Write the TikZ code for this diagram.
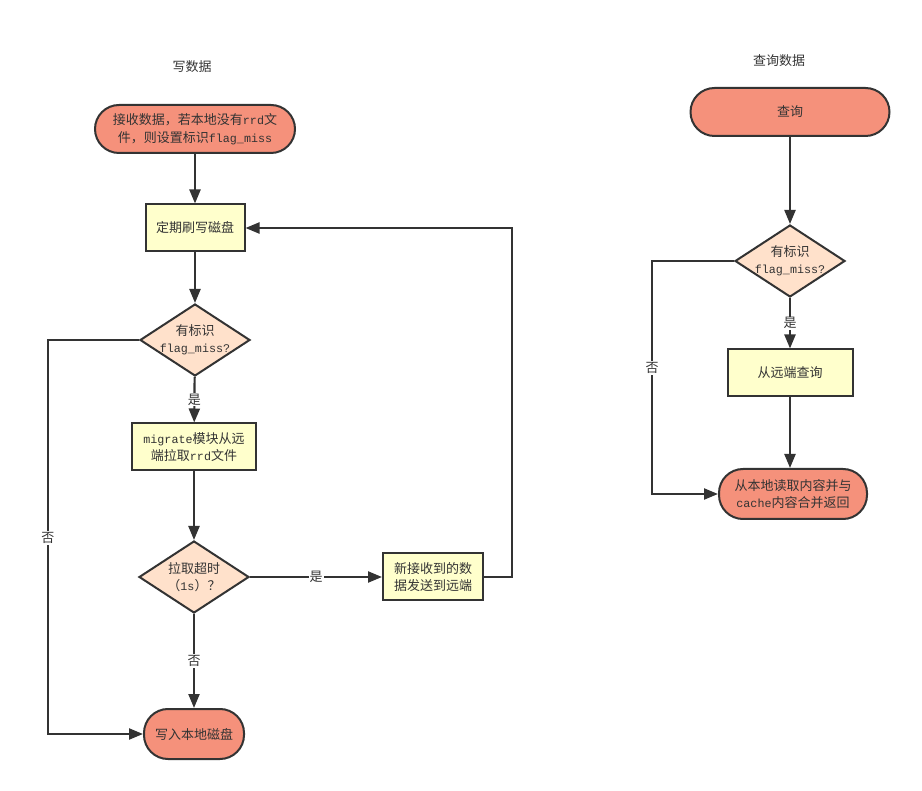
\documentclass[tikz,border=0pt]{standalone}
\usepackage{fontspec}
\setmainfont{Noto Sans CJK SC}
\setmonofont{Liberation Mono}[Scale=0.9]
\usetikzlibrary{arrows.meta,shapes.geometric}

\definecolor{lineC}{HTML}{333333}
\definecolor{termC}{HTML}{F5917B}
\definecolor{boxC}{HTML}{FFFFCC}
\definecolor{diaC}{HTML}{FFE1CB}

\tikzset{
  every node/.style={font=\fontsize{13}{17.5}\selectfont, text=lineC},
  term/.style={draw=lineC, line width=2pt, fill=termC, rounded corners=24pt,
    minimum height=48pt, align=center},
  procbox/.style={draw=lineC, line width=2pt, fill=boxC, minimum height=47pt,
    align=center},
  decision/.style={draw=lineC, line width=2pt, fill=diaC, shape=diamond,
    shape aspect=1.5, inner sep=-4pt, minimum width=110pt, minimum height=72pt,
    align=center},
  arrow/.style={draw=lineC, line width=2.2pt,
    -{Triangle[length=14pt,width=11pt]}},
  lbl/.style={fill=white, inner sep=1pt}
}

\begin{document}
\begin{tikzpicture}[x=1pt,y=-1pt]
        \useasboundingbox (0,0) rectangle (922,791);
        % write side
        \node (t1) at (192,67) {写数据};
        \node[term, minimum width=200pt] (s1) at (195,129)
          {接收数据，若本地没有\texttt{rrd}文\\件，则设置标识\texttt{flag\_miss}};
        \node[procbox, minimum width=99pt] (b1) at (195,228) {定期刷写磁盘};
        \node[decision] (d1) at (195,340) {有标识\\\texttt{flag\_miss?}};
        \node[procbox, minimum width=124pt] (m1) at (194,447)
          {\texttt{migrate}模块从远\\端拉取\texttt{rrd}文件};
        \node[decision] (d2) at (194,577) {拉取超时\\（\texttt{1s}）？};
        \node[procbox, minimum width=100pt] (b3) at (433,577)
          {新接收到的数\\据发送到远端};
        \node[term, minimum width=100pt, minimum height=50pt] (e1) at (194,734)
          {写入本地磁盘};
        \coordinate (leftbus) at (48,538);
        \coordinate (rightbus) at (512,400);

        \draw[arrow] (s1) -- (b1);
        \draw[arrow] (b1) -- (d1);
        \draw[arrow] (d1) -- node[lbl] {是} (m1);
        \draw[arrow] (m1) -- (d2);
        \draw[arrow] (d2) -- node[lbl] {是} (b3);
        \draw[arrow] (d2) -- node[lbl] {否} (e1);
        \draw[arrow] (d1.west) -| (leftbus) node[lbl] {否} |- (e1.west);
        \draw[arrow] (b3.east) -| (rightbus) |- (b1.east);

        % query side
        \node (t2) at (779,61) {查询数据};
        \node[term, minimum width=199pt] (q0) at (790,112) {查询};
        \node[decision] (q1) at (790,261) {有标识\\\texttt{flag\_miss?}};
        \node[procbox, minimum width=125pt] (q2) at (790,373) {从远端查询};
        \node[term, minimum width=148pt, minimum height=50pt] (e2) at (793,494)
          {从本地读取内容并与\\\texttt{cache}内容合并返回};
        \coordinate (qbus) at (652,368);

        \draw[arrow] (q0) -- (q1);
        \draw[arrow] (q1) -- node[lbl] {是} (q2);
        \draw[arrow] (q2) -- (q2 |- e2.north);
        \draw[arrow] (q1.west) -| (qbus) node[lbl] {否} |- (e2.west);
\end{tikzpicture}
\end{document}
